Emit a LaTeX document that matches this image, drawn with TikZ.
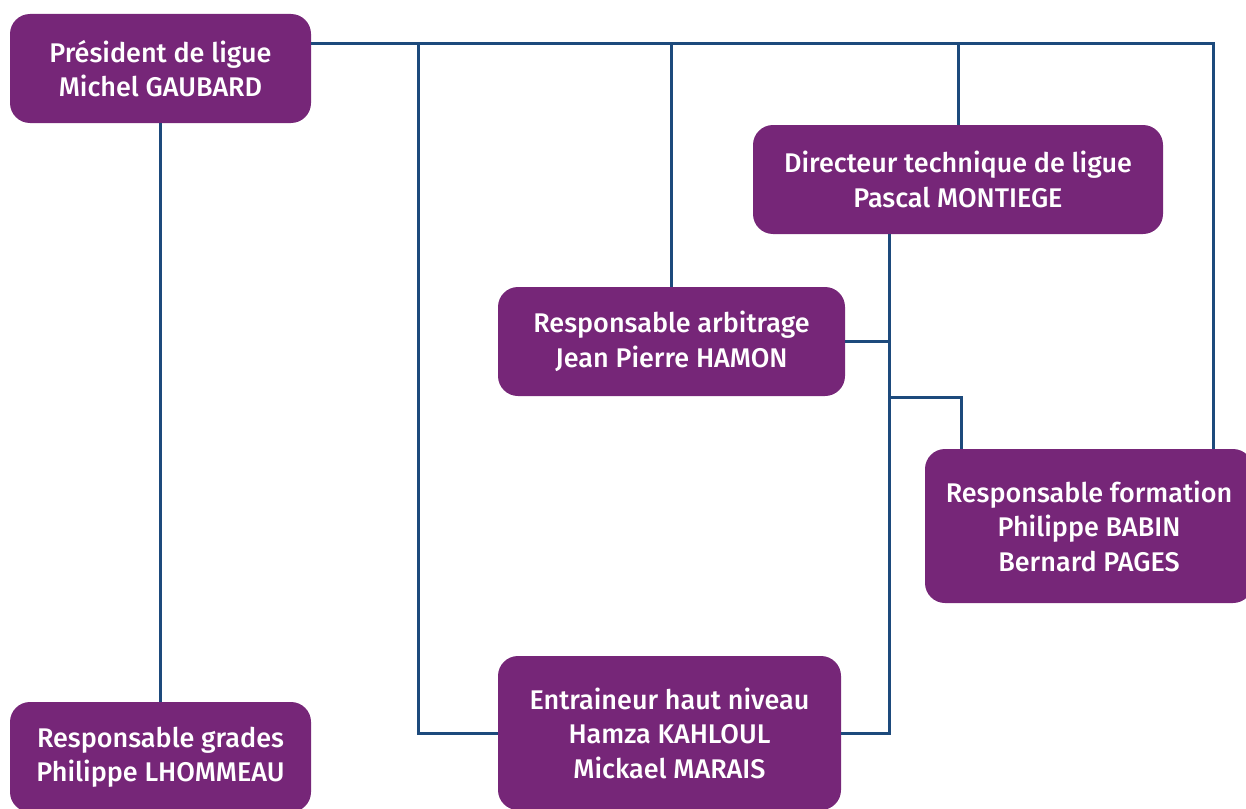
\documentclass[tikz,border=0pt]{standalone}
\usepackage{fontspec}
\setmainfont{Fira Sans}[UprightFont=* Medium]
\definecolor{boxpurple}{HTML}{762678}
\definecolor{linkblue}{HTML}{1D4A7C}
\begin{document}
\begin{tikzpicture}[x=1pt,y=-1pt,
  orgbox/.style={fill=boxpurple, rounded corners=20pt, text=white, align=center,
    inner sep=0pt, font=\fontsize{27}{34.5}\selectfont},
  link/.style={draw=linkblue, line width=3pt}]
\useasboundingbox (0,0) rectangle (1246,808);
\clip (0,0) rectangle (1246,808);
\node[orgbox, minimum width=301pt, minimum height=109pt] (pres) at (160.5,68.5) {Président de ligue\\Michel GAUBARD};
\node[orgbox, minimum width=410pt, minimum height=109pt] (dir) at (958,179.5) {Directeur technique de ligue\\Pascal MONTIEGE};
\node[orgbox, minimum width=347pt, minimum height=109pt] (arb) at (671.5,341.5) {Responsable arbitrage\\Jean Pierre HAMON};
\node[orgbox, minimum width=328pt, minimum height=154pt] (form) at (1089,526) {Responsable formation\\Philippe BABIN\\Bernard PAGES};
\node[orgbox, minimum width=343pt, minimum height=154pt] (entr) at (669.5,733) {Entraineur haut niveau\\Hamza KAHLOUL\\Mickael MARAIS};
\node[orgbox, minimum width=301pt, minimum height=110pt] (grad) at (160.5,757) {Responsable grades\\Philippe LHOMMEAU};
\coordinate (top) at (1213,44);
\coordinate (jl) at (418,44);
\coordinate (dv) at (889,0);
\coordinate (fb) at (961,397);
\draw[link] (pres.east |- top) -- (top) -- (top |- form.north);
\draw[link] (jl) |- (entr.west);
\draw[link] (arb.north |- top) -- (arb.north);
\draw[link] (dir.north |- top) -- (dir.north);
\draw[link] (dv |- dir.south) -- (dv |- entr.east) -- (entr.east);
\draw[link] (arb.east) -- (dv |- arb.east);
\draw[link] (dv |- fb) -| (fb |- form.north);
\draw[link] (pres.south) -- (grad.north);
\end{tikzpicture}
\end{document}
